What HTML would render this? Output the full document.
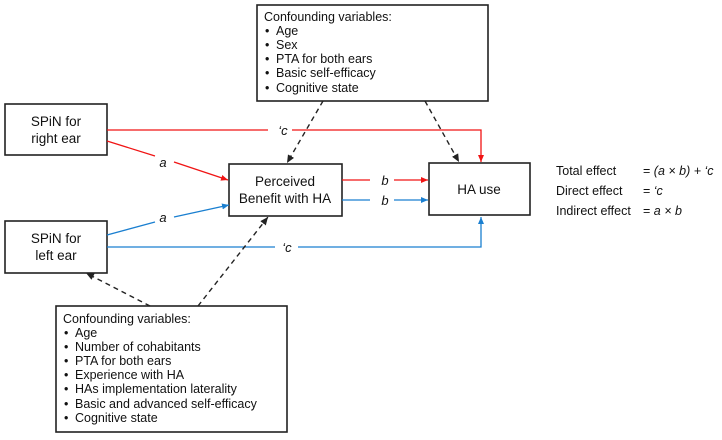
<!DOCTYPE html>
<html><head><meta charset="utf-8"><style>
body{margin:0;background:#fff}
svg{display:block}
text{font-family:"Liberation Sans",sans-serif;fill:#111}
</style></head><body>
<svg width="722" height="440" viewBox="0 0 722 440" xmlns="http://www.w3.org/2000/svg">
<defs>
<marker id="ar" markerWidth="8" markerHeight="8" refX="7" refY="4" orient="auto" markerUnits="userSpaceOnUse"><path d="M0,1 L7,4 L0,7z" fill="#f01414"/></marker>
<marker id="ab" markerWidth="8" markerHeight="8" refX="7" refY="4" orient="auto" markerUnits="userSpaceOnUse"><path d="M0,1 L7,4 L0,7z" fill="#1a7fd0"/></marker>
<marker id="ak" markerWidth="9" markerHeight="9" refX="8" refY="4.5" orient="auto" markerUnits="userSpaceOnUse"><path d="M0,1 L8,4.5 L0,8z" fill="#222"/></marker>
</defs>
<g fill="none" stroke="#222" stroke-width="1.6">
<rect x="5" y="104" width="102" height="51"/>
<rect x="5" y="221" width="102" height="52"/>
<rect x="229" y="164" width="113" height="52"/>
<rect x="429" y="163" width="101" height="52"/>
<rect x="257" y="5" width="231" height="96"/>
<rect x="56" y="306" width="231" height="126"/>
</g>
<g fill="none" stroke="#f01414" stroke-width="1.3">
<path d="M107 130 H268 M292 130 H481 V162" marker-end="url(#ar)"/>
<path d="M107 141 L155 156 M174 162 L228 180" marker-end="url(#ar)"/>
<path d="M342 180 H370 M394 180 H428" marker-end="url(#ar)"/>
</g>
<g fill="none" stroke="#1a7fd0" stroke-width="1.3">
<path d="M107 247 H275 M298 247 H481 V217" marker-end="url(#ab)"/>
<path d="M107 235 L155 222 M174 217 L229 205" marker-end="url(#ab)"/>
<path d="M342 200 H370 M394 200 H428" marker-end="url(#ab)"/>
</g>
<g fill="none" stroke="#222" stroke-width="1.4" stroke-dasharray="5,4">
<path d="M323 101 L287 163" marker-end="url(#ak)"/>
<path d="M425 101 L459 162" marker-end="url(#ak)"/>
<path d="M150 306 L86 273" marker-end="url(#ak)"/>
<path d="M198 306 L268 217" marker-end="url(#ak)"/>
</g>
<g font-size="13" font-style="italic" text-anchor="middle">
<text x="283" y="135">‘c</text>
<text x="163" y="167">a</text>
<text x="163" y="222">a</text>
<text x="385" y="185">b</text>
<text x="385" y="205">b</text>
<text x="287" y="252">‘c</text>
</g>
<g font-size="13.5" text-anchor="middle">
<text x="56" y="126">SPiN for</text>
<text x="56" y="143">right ear</text>
<text x="56" y="243">SPiN for</text>
<text x="56" y="260">left ear</text>
<text x="285" y="186">Perceived</text>
<text x="285" y="203">Benefit with HA</text>
<text x="479" y="194">HA use</text>
</g>
<g font-size="12.5">
<text x="264" y="21">Confounding variables:</text>
<text x="265" y="35">•</text><text x="276" y="35">Age</text>
<text x="265" y="49">•</text><text x="276" y="49">Sex</text>
<text x="265" y="63">•</text><text x="276" y="63">PTA for both ears</text>
<text x="265" y="77">•</text><text x="276" y="77">Basic self-efficacy</text>
<text x="265" y="92">•</text><text x="276" y="92">Cognitive state</text>
<text x="63" y="323">Confounding variables:</text>
<text x="64" y="337">•</text><text x="75" y="337">Age</text>
<text x="64" y="351">•</text><text x="75" y="351">Number of cohabitants</text>
<text x="64" y="365">•</text><text x="75" y="365">PTA for both ears</text>
<text x="64" y="379">•</text><text x="75" y="379">Experience with HA</text>
<text x="64" y="393">•</text><text x="75" y="393">HAs implementation laterality</text>
<text x="64" y="408">•</text><text x="75" y="408">Basic and advanced self-efficacy</text>
<text x="64" y="422">•</text><text x="75" y="422">Cognitive state</text>
</g>
<g font-size="12.5">
<text x="556" y="175">Total effect</text>
<text x="556" y="195">Direct effect</text>
<text x="556" y="215">Indirect effect</text>
<text x="643" y="175">= <tspan font-style="italic">(a × b) + ‘c</tspan></text>
<text x="643" y="195">= <tspan font-style="italic">‘c</tspan></text>
<text x="643" y="215">= <tspan font-style="italic">a × b</tspan></text>
</g>
</svg>
</body></html>
